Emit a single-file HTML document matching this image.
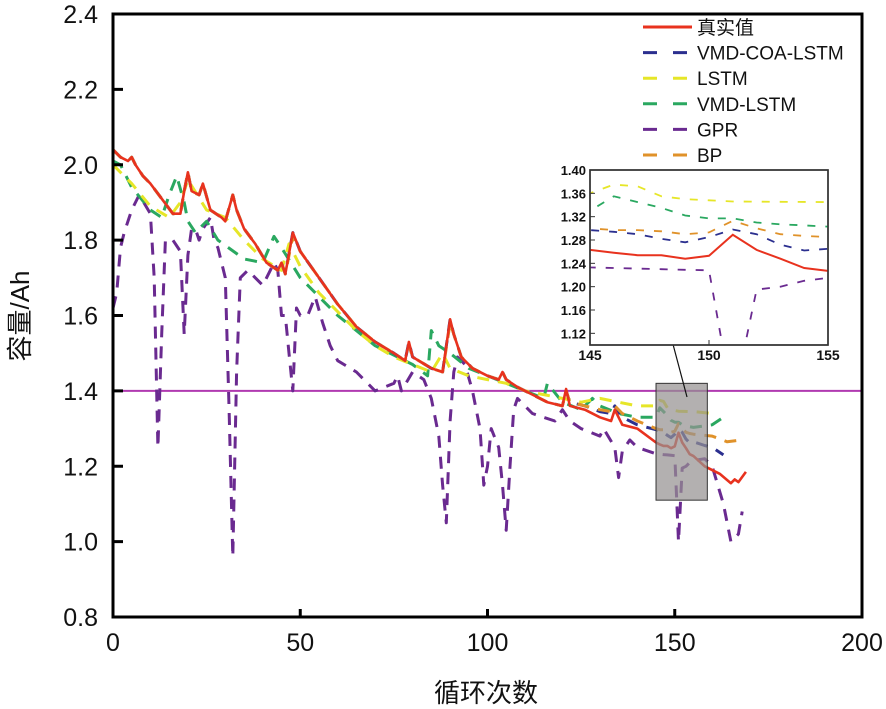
<!DOCTYPE html>
<html><head><meta charset="utf-8"><style>
body{margin:0;background:#fff;width:886px;height:709px;overflow:hidden}
svg{display:block;font-family:"Liberation Sans","Noto Sans CJK SC",sans-serif}
</style></head><body>
<svg id="chart" width="886" height="709" viewBox="0 0 886 709"></svg>
<script>
const xTicks=[0,50,100,150,200];
const yTicks=[0.8,1.0,1.2,1.4,1.6,1.8,2.0,2.2,2.4];
const insetXTicks=[145,150,155];
const insetYTicks=[1.12,1.16,1.20,1.24,1.28,1.32,1.36,1.40];
const thresholdValue=1.4;
const trueX=[0,2,4,5,6,8,10,13,16,18,19,20,21,23,24,26,29,30,32,33,35,38,41,44,45,46,48,50,55,60,65,70,75,78,79,80,85,88,90,91,93,96,100,103,104,105,108,112,116,120,121,122,126,130,133,134,136,140,145,146,147,148,149,150,151,152,153,154,155,158,162,165,166,167,169];
const trueY=[2.04,2.02,2.01,2.02,2.0,1.97,1.95,1.91,1.87,1.87,1.93,1.98,1.93,1.92,1.95,1.88,1.86,1.85,1.92,1.88,1.83,1.79,1.74,1.72,1.74,1.71,1.82,1.77,1.70,1.63,1.57,1.53,1.50,1.48,1.53,1.49,1.46,1.45,1.59,1.55,1.49,1.46,1.44,1.43,1.45,1.43,1.41,1.39,1.37,1.36,1.405,1.36,1.35,1.33,1.32,1.35,1.31,1.30,1.263,1.258,1.254,1.254,1.248,1.253,1.289,1.263,1.248,1.232,1.227,1.20,1.18,1.155,1.165,1.158,1.185];
const coaX=[0,2,4,5,6,8,10,13,16,18,19,20,21,23,24,26,29,30,32,33,35,38,41,44,45,46,48,50,55,60,65,70,75,78,79,80,85,88,90,91,93,96,100,103,104,105,108,112,116,120,121,122,126,130,133,134,136,140,145,146,147,148,149,150,151,152,153,154,155,158,160,163];
const coaY=[2.04,2.02,2.01,2.02,2.0,1.97,1.95,1.91,1.87,1.87,1.93,1.98,1.93,1.92,1.95,1.88,1.86,1.85,1.92,1.88,1.83,1.79,1.74,1.72,1.74,1.71,1.82,1.77,1.70,1.63,1.57,1.53,1.50,1.48,1.53,1.49,1.46,1.45,1.59,1.55,1.49,1.46,1.44,1.43,1.45,1.43,1.41,1.39,1.37,1.36,1.40,1.37,1.36,1.345,1.34,1.36,1.33,1.31,1.297,1.294,1.29,1.282,1.276,1.285,1.298,1.29,1.272,1.262,1.265,1.255,1.25,1.23];
const bpX=[0,2,4,5,6,8,10,13,16,18,19,20,21,23,24,26,29,30,32,33,35,38,41,44,45,46,48,50,55,60,65,70,75,78,79,80,85,88,90,91,93,96,100,103,104,105,108,112,116,120,121,122,126,130,133,134,136,140,145,146,147,148,149,150,151,152,153,154,155,160,164,168];
const bpY=[2.04,2.02,2.01,2.02,2.0,1.97,1.95,1.91,1.87,1.87,1.93,1.98,1.93,1.92,1.95,1.88,1.86,1.85,1.92,1.88,1.83,1.79,1.74,1.72,1.74,1.71,1.81,1.77,1.70,1.63,1.57,1.53,1.50,1.48,1.52,1.49,1.46,1.45,1.58,1.55,1.49,1.46,1.44,1.43,1.45,1.43,1.41,1.39,1.37,1.36,1.40,1.37,1.36,1.35,1.345,1.36,1.34,1.32,1.30,1.297,1.297,1.295,1.29,1.293,1.313,1.30,1.29,1.287,1.285,1.28,1.265,1.27];
const lstmX=[0,5,10,15,18,20,25,30,35,40,45,47,50,55,60,65,70,75,80,85,88,90,95,100,105,110,115,120,125,130,135,140,145,146,147,148,149,150,151,155,160];
const lstmY=[2.0,1.95,1.89,1.86,1.90,1.96,1.88,1.86,1.80,1.75,1.72,1.79,1.73,1.66,1.61,1.56,1.52,1.49,1.47,1.45,1.50,1.46,1.44,1.43,1.42,1.40,1.39,1.38,1.37,1.38,1.37,1.36,1.36,1.375,1.372,1.355,1.35,1.348,1.346,1.345,1.34];
const vmdX=[0,2,5,10,13,15,17,19,20,22,25,28,35,40,43,45,50,60,70,80,84,85,87,90,95,100,110,115,116,120,125,128,130,135,140,145,146,147,148,149,150,151,152,153,154,155,160,163];
const vmdY=[2.01,2.00,1.94,1.88,1.86,1.92,1.97,1.90,1.85,1.82,1.85,1.80,1.75,1.74,1.81,1.78,1.70,1.60,1.52,1.47,1.44,1.56,1.52,1.50,1.46,1.44,1.40,1.38,1.42,1.37,1.35,1.38,1.36,1.34,1.33,1.33,1.355,1.345,1.335,1.322,1.317,1.317,1.31,1.307,1.305,1.303,1.31,1.33];
const gprX=[0,1,2,3,5,7,10,11,12,13,14,16,18,19,20,21,22,23,24,26,27,28,30,31,32,33,34,36,38,40,42,43,44,45,46,47,48,49,50,52,54,56,58,60,65,70,75,76,77,80,83,85,87,88,89,90,91,92,94,96,98,99,100,101,103,104,105,106,107,108,112,115,118,120,122,125,130,131,134,135,136,138,140,145,146,147,148,149,150,151,152,153,154,155,158,160,163,165,167,168];
const gprY=[1.62,1.66,1.78,1.82,1.88,1.92,1.87,1.70,1.25,1.55,1.80,1.80,1.77,1.55,1.76,1.83,1.83,1.80,1.83,1.86,1.80,1.78,1.70,1.35,0.96,1.45,1.70,1.72,1.70,1.68,1.72,1.74,1.72,1.60,1.60,1.50,1.40,1.62,1.60,1.60,1.65,1.58,1.52,1.48,1.45,1.40,1.42,1.44,1.40,1.45,1.43,1.38,1.28,1.15,1.05,1.32,1.45,1.49,1.47,1.40,1.30,1.15,1.20,1.30,1.25,1.15,1.03,1.20,1.35,1.38,1.34,1.33,1.32,1.35,1.32,1.30,1.28,1.30,1.25,1.17,1.24,1.27,1.25,1.233,1.232,1.231,1.23,1.229,1.228,1.0,1.195,1.20,1.21,1.215,1.22,1.20,1.10,1.00,1.02,1.08];
const seriesNames=["真实值","VMD-COA-LSTM","LSTM","VMD-LSTM","GPR","BP"];
const seriesColors=["#e8321e","#2b2f8f","#e6e628","#2aa860","#6a2a90","#e0922a"];
const seriesX=[trueX,coaX,lstmX,vmdX,gprX,bpX];
const seriesY=[trueY,coaY,lstmY,vmdY,gprY,bpY];
const drawOrder=[4,3,2,1,5,0];

const svg=document.getElementById('chart');
const NS='http://www.w3.org/2000/svg';
function mk(tag,attrs,parent){const e=document.createElementNS(NS,tag);for(const k in attrs)e.setAttribute(k,attrs[k]);(parent||svg).appendChild(e);return e;}
const L=113,R=862,T=14,B=617;
const sx=v=>L+(v-0)/200*(R-L);
const sy=v=>B-(v-0.8)/1.6*(B-T);
const IL=590,IR=828,IT=170,IB=345;
const ix=v=>IL+(v-145)/10*(IR-IL);
const iy=v=>IB-(v-1.10)/0.30*(IB-IT);

const defs=mk('defs',{});
const c1=mk('clipPath',{id:'mainclip'},defs);mk('rect',{x:L,y:T,width:R-L,height:B-T},c1);
const c2=mk('clipPath',{id:'insetclip'},defs);mk('rect',{x:IL,y:IT,width:IR-IL,height:IB-IT},c2);

let th=mk('line',{x1:L,x2:R,y1:sy(thresholdValue),y2:sy(thresholdValue),stroke:'#b03ab0','stroke-width':2});



const gMain=mk('g',{'clip-path':'url(#mainclip)'});


drawOrder.forEach(i=>{
  const pts=seriesX[i].map((x,j)=>sx(x).toFixed(1)+','+sy(seriesY[i][j]).toFixed(1)).join(' ');
  const p=mk('polyline',{points:pts,fill:'none',stroke:seriesColors[i],'stroke-width':i===0?2.6:3,'stroke-linejoin':'round','stroke-dasharray':i===0?'none':'12 9'},gMain);
  
  
});

let zr=mk('rect',{x:sx(145),y:sy(1.42),width:sx(158.7)-sx(145),height:sy(1.11)-sy(1.42),fill:'rgba(150,145,145,0.72)',stroke:'#333','stroke-width':1});


let ar=mk('line',{x1:687,y1:397,x2:670,y2:333,stroke:'#111','stroke-width':1.2});


let ah=mk('polygon',{points:'668,322 665,336 675,334',fill:'#111'});



let fr=mk('rect',{x:L,y:T,width:R-L,height:B-T,fill:'none',stroke:'#000','stroke-width':3});



xTicks.forEach(v=>{
  mk('line',{x1:sx(v),x2:sx(v),y1:B,y2:B-8,stroke:'#000','stroke-width':3});
  const t=mk('text',{x:sx(v),y:651,'text-anchor':'middle','font-size':25,fill:'#111'});t.textContent=v;
  
  
});
yTicks.forEach(v=>{
  mk('line',{x1:L,x2:L+10,y1:sy(v),y2:sy(v),stroke:'#000','stroke-width':3});
  const t=mk('text',{x:98,y:sy(v)+9,'text-anchor':'end','font-size':25,fill:'#111'});t.textContent=v.toFixed(1);
  
  
});
let xt=mk('text',{x:486,y:702,'text-anchor':'middle','font-size':26,fill:'#111'});xt.textContent='循环次数';


let yt=mk('text',{x:0,y:0,'text-anchor':'middle','font-size':26,fill:'#111',transform:'translate(29,316) rotate(-90)'});yt.textContent='容量/Ah';



let lb=mk('rect',{x:628,y:16,width:232,height:153,fill:'#fff',stroke:'none'});


seriesNames.forEach((n,i)=>{
  const y=27+i*25.6;
  mk('line',{x1:643,x2:692,y1:y,y2:y,stroke:seriesColors[i],'stroke-width':3,'stroke-dasharray':i===0?'none':'14 16'});
  const t=mk('text',{x:697,y:y+7,'font-size':19,fill:'#111'});t.textContent=n;
  
  
});
mk('line',{x1:R,x2:R,y1:T,y2:170,stroke:'#000','stroke-width':3});

let ib=mk('rect',{x:IL,y:IT,width:IR-IL,height:IB-IT,fill:'#fff',stroke:'#333','stroke-width':1.5});


const gIn=mk('g',{'clip-path':'url(#insetclip)'});


drawOrder.forEach(i=>{
  const pts=seriesX[i].map((x,j)=>ix(x).toFixed(1)+','+iy(seriesY[i][j]).toFixed(1)).join(' ');
  const p=mk('polyline',{points:pts,fill:'none',stroke:seriesColors[i],'stroke-width':i===0?2:1.8,'stroke-dasharray':i===0?'none':'8 10'},gIn);
  
  
});
mk('rect',{x:IL,y:IT,width:IR-IL,height:IB-IT,fill:'none',stroke:'#333','stroke-width':1.5});
insetXTicks.forEach(v=>{
  mk('line',{x1:ix(v),x2:ix(v),y1:IB,y2:IB-5,stroke:'#333','stroke-width':1});
  const t=mk('text',{x:ix(v),y:360,'text-anchor':'middle','font-size':14,'font-weight':'bold',fill:'#111'});t.textContent=v;
  
  
});
insetYTicks.forEach(v=>{
  mk('line',{x1:IL,x2:IL+5,y1:iy(v),y2:iy(v),stroke:'#333','stroke-width':1});
  const t=mk('text',{x:586,y:iy(v)+5,'text-anchor':'end','font-size':13,'font-weight':'bold',fill:'#111'});t.textContent=v.toFixed(2);
  
  
});
</script>
</body></html>
